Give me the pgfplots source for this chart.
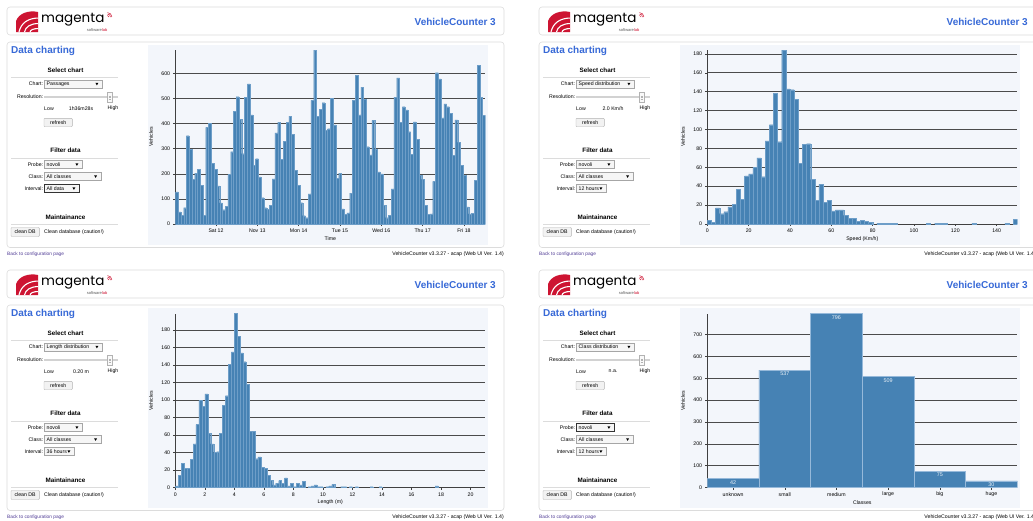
\documentclass[border=0pt]{standalone}
\usepackage{pgfplots}
\pgfplotsset{compat=1.18}
\usepackage{fontspec}
\setmainfont{Liberation Sans}
\newfontfamily\logofont{Poppins}
\definecolor{steel}{RGB}{70,130,180}
\definecolor{steeledge}{RGB}{150,185,218}
\definecolor{steelthin}{RGB}{110,158,200}
\definecolor{hdrblue}{RGB}{55,105,215}
\definecolor{chartbg}{RGB}{243,246,251}
\definecolor{boxborder}{RGB}{220,220,220}
\definecolor{gridc}{RGB}{75,75,75}
\definecolor{linkc}{RGB}{80,60,150}
\definecolor{logored}{RGB}{205,20,50}
\newcommand{\fs}[1]{\fontsize{#1}{#1}\selectfont}

\newcommand{\selbox}[5]{%
  \draw[#5, fill=gray!7, line width=0.4] (#1,#3+4) rectangle (#2,#3-4);
  \node[anchor=west, inner sep=0, font=\fs{5.2}] at (#1+2.5,#3) {#4};
  \fill (#2-6.6,#3+1.2) -- (#2-3.6,#3+1.2) -- (#2-5.1,#3-1.4) -- cycle;
}
\newcommand{\btn}[5]{%
  \draw[gray!60, fill=gray!10, rounded corners=0.8, line width=0.4] (#1,#3) rectangle (#2,#4);
  \node[inner sep=0, font=\fs{5.2}] at ({(#1+#2)/2},{(#3+#4)/2}) {#5};
}
\newcommand{\panel}[6]{%
  \draw[boxborder, fill=white, rounded corners=3, line width=0.6] (7,-7) rectangle (504,-35);
  \draw[boxborder, fill=white, rounded corners=3, line width=0.6] (7,-42) rectangle (504,-247.5);
  \fill[chartbg] (148,-45) rectangle (488,-245);
  % logo
  \begin{scope}
    \clip (16,-11) rectangle (38,-32);
    \fill[logored] (16,-32) -- (16,-21) .. controls (19,-13) and (29,-10) .. (38,-12) -- (38,-32) -- cycle;
    \draw[white, line width=1.1] (19,-32) .. controls (21,-23) and (28,-18) .. (39,-18);
    \draw[white, line width=1.1] (24.5,-32) .. controls (25.5,-27) and (30,-23.5) .. (39,-23.5);
    \draw[white, line width=1.1] (30,-32) .. controls (30.5,-30) and (33,-28.5) .. (39,-28.5);
  \end{scope}
  \node[anchor=west, inner sep=0, font=\logofont\fs{13.5}] at (41,-19.5) {magenta};
  \node[anchor=east, inner sep=0, font=\fs{4}] at (107.5,-30.5) {\textcolor{gray!70!black}{software}\textcolor{logored}{lab}};
  \draw[logored, line width=0.5] (107.5,-17) ++(0:1.6) arc (0:90:1.6);
  \draw[logored, line width=0.5] (107.5,-17) ++(0:3) arc (0:90:3);
  \draw[logored, line width=0.5] (107.5,-17) ++(0:4.4) arc (0:90:4.4);
  \node[anchor=east, inner sep=0, font=\bfseries\fs{10}, text=hdrblue] at (496,-21.5) {VehicleCounter 3};
  \node[anchor=west, inner sep=0, font=\bfseries\fs{10}, text=hdrblue] at (11,-50.5) {Data charting};
  % select chart
  \node[font=\bfseries\fs{6.3}, inner sep=0] at (65.5,-70.5) {Select chart};
  \draw[boxborder, line width=0.6] (11,-77) -- (118,-77);
  \node[anchor=east, inner sep=0, font=\fs{5.2}] at (43.3,-84) {Chart:};
  \selbox{44}{102}{-84}{#1}{gray!70}
  \node[anchor=east, inner sep=0, font=\fs{5.2}] at (43.3,-97) {Resolution:};
  \draw[gray!35, line width=1.2] (44,-97) -- (118,-97);
  \draw[gray!60, fill=gray!5, line width=0.4] (107.5,-92) rectangle (112.5,-102.5);
  \draw[gray!60, line width=0.3] (108.8,-96) -- (111.2,-96) (108.8,-97.5) -- (111.2,-97.5) (108.8,-99) -- (111.2,-99);
  \node[font=\fs{5.2}, inner sep=0] at (49,-108.5) {Low};
  \node[font=\fs{5.2}, inner sep=0] at (81,-108.5) {#2};
  \node[font=\fs{5.2}, inner sep=0] at (113,-108.5) {High};
  \btn{44}{72.3}{-118.3}{-126.7}{refresh}
  % filter
  \node[font=\bfseries\fs{6.3}, inner sep=0] at (65.5,-150.5) {Filter data};
  \draw[boxborder, line width=0.6] (11,-158) -- (118,-158);
  \node[anchor=east, inner sep=0, font=\fs{5.2}] at (43.3,-164.5) {Probe:};
  \selbox{44}{82}{-164.5}{novoli}{#5}
  \node[anchor=east, inner sep=0, font=\fs{5.2}] at (43.3,-176.5) {Class:};
  \selbox{44}{100.7}{-176.5}{All classes}{gray!70}
  \node[anchor=east, inner sep=0, font=\fs{5.2}] at (43.3,-188.5) {Interval:};
  \selbox{44}{#4}{-188.5}{#3}{#6}
  % maintenance
  \node[font=\bfseries\fs{6.3}, inner sep=0] at (65.5,-217.5) {Maintainance};
  \draw[boxborder, line width=0.6] (11,-224) -- (118,-224);
  \btn{11}{39.3}{-227.5}{-236.5}{clean DB}
  \node[anchor=west, font=\fs{5.2}, inner sep=0] at (44,-232) {Clean database (caution!)};
  \node[anchor=west, font=\fs{4.8}, inner sep=0, text=linkc] at (7,-254) {Back to configuration page};
  \node[anchor=east, font=\fs{5.2}, inner sep=0] at (504,-254) {VehicleCounter v3.3.27 - acap (Web UI Ver. 1.4)};
}

\pgfplotsset{
  vc/.style={
    scale only axis, enlargelimits=false, ymin=0,
    width=310pt, height=174pt, anchor=south west,
    axis x line*=bottom, axis y line*=left,
    axis line style={draw=black!75, line width=0.5pt},
    ymajorgrids, major grid style={draw=gridc, line width=0.55pt},
    tick align=outside, major tick length=2pt,
    tick style={draw=black!75, line width=0.4pt},
    ticklabel style={font=\fs{5.2}, inner sep=0pt},
    yticklabel style={anchor=east, xshift=-3pt},
    xticklabel style={anchor=center, yshift=-5pt},
    /pgf/number format/assume math mode=true,
    label style={font=\fs{5.2}},
    ylabel=Vehicles,
    ylabel style={at={(axis description cs:-0.0785,0.5)}, anchor=center},
    xlabel style={at={(axis description cs:0.5,0)}, anchor=center, yshift=-14.8pt},
    ybar, bar shift=0pt,
  }
}

\begin{document}
\begin{tikzpicture}[x=1pt,y=1pt]
\useasboundingbox (0,0) rectangle (1033,-520);
\fill[white] (0,0) rectangle (1033,-520);
\begin{scope}\panel{Passages}{1h36m28s}{All data}{79}{gray!70}{black!80}\end{scope}
\begin{scope}[shift={(532,0)}]\panel{Speed distribution}{2.0 Km/h}{12 hours}{74}{gray!70}{gray!70}\end{scope}
\begin{scope}[shift={(0,-263)}]\panel{Length distribution}{0.20 m}{36 hours}{74}{gray!70}{gray!70}\end{scope}
\begin{scope}[shift={(532,-263)}]\panel{Class distribution}{n.a.}{12 hours}{74}{black!80}{gray!70}\end{scope}

% Chart 1: passages
\begin{axis}[vc, at={(175.3pt,-224pt)},
  xmin=0, xmax=112, ymax=693, ytick={0,100,...,600}, bar width=1,
  xtick={14.71,29.64,44.57,59.49,74.42,89.35,104.28},
  xticklabels={Sat 12,Nov 13,Mon 14,Tue 15,Wed 16,Thu 17,Fri 18},
  xlabel={Time}]
\addplot[fill=steel, draw=steelthin, line width=0.15pt] table {
x y
0.5 128
1.5 48
2.5 35
3.5 65
4.5 352
5.5 298
6.5 177
7.5 203
8.5 218
9.5 155
10.5 35
11.5 385
12.5 400
13.5 242
14.5 218
15.5 152
16.5 84
17.5 57
18.5 70
19.5 197
20.5 288
21.5 450
22.5 507
23.5 418
24.5 280
25.5 505
26.5 558
27.5 435
28.5 235
29.5 260
30.5 188
31.5 105
32.5 65
33.5 58
34.5 75
35.5 180
36.5 363
37.5 405
38.5 258
39.5 330
40.5 405
41.5 430
42.5 358
43.5 215
44.5 155
45.5 85
46.5 33
47.5 25
48.5 120
49.5 492
50.5 693
51.5 430
52.5 458
53.5 483
54.5 373
55.5 380
56.5 500
57.5 395
58.5 182
59.5 203
60.5 60
61.5 38
62.5 44
63.5 123
64.5 493
65.5 592
66.5 435
67.5 545
68.5 497
69.5 308
70.5 275
71.5 413
72.5 298
73.5 208
74.5 200
75.5 75
76.5 25
77.5 35
78.5 140
79.5 505
80.5 582
81.5 405
82.5 467
83.5 455
84.5 368
85.5 278
86.5 407
87.5 337
88.5 193
89.5 178
90.5 75
91.5 38
92.5 40
93.5 170
94.5 603
95.5 578
96.5 423
97.5 478
98.5 467
99.5 440
100.5 273
101.5 415
102.5 325
103.5 233
104.5 193
105.5 68
106.5 40
107.5 43
108.5 175
109.5 633
110.5 505
111.5 433
};
\end{axis}

% Chart 2: speed
\begin{axis}[vc, at={(707.3pt,-224pt)},
  xmin=0, xmax=150, ymax=184, ytick={0,20,...,180}, xtick={0,20,...,140}, bar width=2,
  xlabel={Speed (Km/h)}]
\addplot[fill=steel, draw=steelthin, line width=0.2pt] table {
x y
1 4
3 2
5 17
7 11
9 13
11 18
13 21
15 37
17 26
19 51
21 53
23 60
25 70
27 50
29 88
31 105
33 138
35 87
37 184
39 143
41 142
43 132
45 64
47 84
49 85
51 47
53 25
55 42
57 23
59 25
61 14
63 15
65 15
67 9
69 6
71 6
73 3
75 4
77 3
79 2
83 1
85 1
87 1
89 1
91 1
107 1
111 1
113 1
115 1
129 1
145 1
149 5
};
\end{axis}

% Chart 3: length
\begin{axis}[vc, at={(175.3pt,-487.5pt)},
  xmin=0, xmax=21, ymax=199, ytick={0,20,...,180}, xtick={0,2,...,20}, bar width=0.2,
  xlabel={Length (m)}]
\addplot[fill=steel, draw=steelthin, line width=0.2pt] table {
x y
0.1 2
0.3 14
0.5 28
0.7 22
0.9 22
1.1 32
1.3 50
1.5 72
1.7 100
1.9 93
2.1 107
2.3 62
2.5 50
2.7 40
2.9 41
3.1 62
3.3 94
3.5 105
3.7 141
3.9 155
4.1 199
4.3 173
4.5 154
4.7 144
4.9 118
5.1 64
5.3 64
5.5 33
5.7 35
5.9 23
6.1 22
6.3 14
6.5 8
6.7 3
6.9 5
7.1 8
7.3 5
7.5 11
7.7 2
7.9 5
8.1 1
8.3 5
8.5 3
8.7 7
9.1 1
9.3 2
9.5 3
9.7 1
9.9 1
10.3 1
10.5 2
10.7 4
11.3 1
11.5 1
11.9 1
12.3 1
13.3 1
13.9 1
17.7 2
};
\end{axis}

% Chart 4: classes
\begin{axis}[vc, at={(707.3pt,-487.5pt)},
  xmin=-0.5, xmax=5.5, ymax=796, ytick={0,100,...,700}, bar width=1,
  xtick={0,...,5}, xticklabels={unknown,small,medium,large,big,huge},
  xlabel={Classes},
  nodes near coords,
  every node near coord/.append style={anchor=north, font=\fs{5.4}, text=white!88!steel, inner sep=1.8pt}]
\addplot[fill=steel, draw=steeledge, line width=0.6pt] coordinates {
(0,42) (1,537) (2,796) (3,509) (4,75) (5,30)
};
\end{axis}
\end{tikzpicture}
\end{document}
